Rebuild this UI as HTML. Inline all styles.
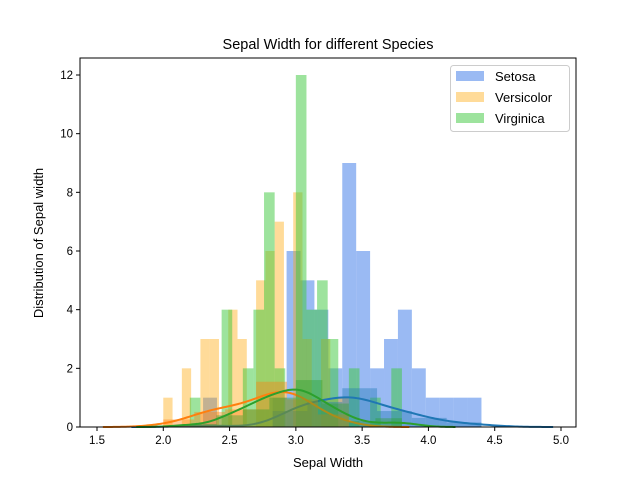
<!DOCTYPE html>
<html><head><meta charset="utf-8">
<style>
html,body{margin:0;padding:0;background:#fff;}
svg text{font-family:"Liberation Sans","DejaVu Sans",sans-serif;fill:#000;}
</style></head>
<body>
<svg id="chart" width="640" height="480" viewBox="0 0 640 480" xmlns="http://www.w3.org/2000/svg">
<rect x="0" y="0" width="640" height="480" fill="#fff"/>
<g id="plot"></g>
<text x="328" y="49" font-size="14.5" text-anchor="middle">Sepal Width for different Species</text>
<text x="328" y="467" font-size="13" text-anchor="middle">Sepal Width</text>
<text transform="translate(43,243) rotate(-90)" font-size="13" text-anchor="middle">Distribution of Sepal width</text>
<g>
<rect x="450.5" y="65.5" width="119" height="66" rx="3" fill="#fff" fill-opacity="0.8" stroke="#ccc"/>
<rect x="456" y="71" width="28" height="10" fill="rgba(100,149,237,0.65)"/>
<text x="495" y="81" font-size="13">Setosa</text>
<rect x="456" y="92" width="28" height="10" fill="rgba(255,165,0,0.4)"/>
<text x="495" y="102" font-size="13">Versicolor</text>
<rect x="456" y="113" width="28" height="10" fill="rgba(60,200,60,0.5)"/>
<text x="495" y="123" font-size="13">Virginica</text>
</g>
</svg>
<script>
// ---- data ----
const xTicks = [1.5,2.0,2.5,3.0,3.5,4.0,4.5,5.0];
const yTicks = [0,2,4,6,8,10,12];
const setosaRange = [2.3,4.4];
const versicolorRange = [2.0,3.4];
const virginicaRange = [2.2,3.8];
const setosaCounts = [1,0,0,0,0,1,6,5,4,2,9,6,2,3,4,2,1,1,1,1];
const versicolorCounts = [1,0,2,0,3,3,0,4,3,0,5,6,7,0,8,3,0,3,1,1];
const virginicaCounts = [1,0,0,4,0,2,4,8,2,0,12,4,5,3,0,2,0,1,0,2];
// raw sepal-width values and frequencies (for density hist + KDE)
const setosaValues = [2.3,2.9,3.0,3.1,3.2,3.3,3.4,3.5,3.6,3.7,3.8,3.9,4.0,4.1,4.2,4.4];
const setosaFreq   = [1,1,6,4,5,2,9,6,2,3,4,2,1,1,1,1];
const versicolorValues = [2.0,2.2,2.3,2.4,2.5,2.6,2.7,2.8,2.9,3.0,3.1,3.2,3.3,3.4];
const versicolorFreq   = [1,2,3,3,4,3,5,6,7,8,3,3,1,1];
const virginicaValues = [2.2,2.5,2.6,2.7,2.8,2.9,3.0,3.1,3.2,3.3,3.4,3.6,3.8];
const virginicaFreq   = [1,4,2,4,8,2,12,4,5,3,2,1,2];

// ---- axes ----
const L=80,R=576,T=58,B=427;
const xs = v => 97 + (v-1.5)*(561-97)/3.5;
const ys = v => 427 - v*(427-75)/12;
const NS="http://www.w3.org/2000/svg";
const plot=document.getElementById('plot');
function mk(tag,attrs,parent){const e=document.createElementNS(NS,tag);for(const k in attrs)e.setAttribute(k,attrs[k]);(parent||plot).appendChild(e);return e;}

function countHist(range,counts,fill,name){
  const w=(range[1]-range[0])/counts.length;
  counts.forEach((c,i)=>{
    if(!c)return;
    const x0=xs(range[0]+i*w),x1=xs(range[0]+(i+1)*w);
    const r=mk('rect',{x:x0,y:ys(c),width:x1-x0,height:ys(0)-ys(c),fill:fill});
    
    
  });
}
function expand(vals,freq){const a=[];vals.forEach((v,i)=>{for(let k=0;k<freq[i];k++)a.push(v);});return a;}
function quant(s,q){const p=(s.length-1)*q,lo=Math.floor(p),hi=Math.ceil(p);return s[lo]+(s[hi]-s[lo])*(p-lo);}
function densityHist(a,fill,name){
  const s=a.slice().sort((x,y)=>x-y),n=s.length;
  const iqr=quant(s,0.75)-quant(s,0.25);
  const h=2*iqr/Math.cbrt(n);
  const nb=Math.min(50,Math.ceil((s[n-1]-s[0])/h));
  const w=(s[n-1]-s[0])/nb;const c=new Array(nb).fill(0);
  s.forEach(v=>{let i=Math.floor((v-s[0])/w+1e-9);if(i>=nb)i=nb-1;c[i]++;});
  c.forEach((k,i)=>{if(!k)return;const d=k/(n*w);
    const x0=xs(s[0]+i*w),x1=xs(s[0]+(i+1)*w);
    const r=mk('rect',{x:x0,y:ys(d),width:x1-x0,height:ys(0)-ys(d),fill:fill,'fill-opacity':0.4});
    
    
  });
}
function kde(a,color,name){
  const n=a.length,m=a.reduce((p,v)=>p+v,0)/n;
  const sd=Math.sqrt(a.reduce((p,v)=>p+(v-m)*(v-m),0)/(n-1));
  const s=a.slice().sort((x,y)=>x-y);const iqr=quant(s,0.75)-quant(s,0.25);
  const bw=1.059*Math.min(sd,iqr/1.349)*Math.pow(n,-0.2);
  const lo=s[0]-3*bw,hi=s[n-1]+3*bw;let d='';
  for(let i=0;i<=200;i++){const x=lo+(hi-lo)*i/200;let y=0;
    a.forEach(v=>{const z=(x-v)/bw;y+=Math.exp(-z*z/2);});
    y/=n*bw*Math.sqrt(2*Math.PI);
    d+=(i?'L':'M')+xs(x).toFixed(2)+','+ys(y).toFixed(2);}
  const p=mk('path',{d:d,fill:'none',stroke:color,'stroke-width':2});
  
  
}
countHist(setosaRange,setosaCounts,'rgba(100,149,237,0.65)','setosa');
countHist(versicolorRange,versicolorCounts,'rgba(255,165,0,0.4)','versicolor');
countHist(virginicaRange,virginicaCounts,'rgba(60,200,60,0.5)','virginica');
const sA=expand(setosaValues,setosaFreq),vA=expand(versicolorValues,versicolorFreq),gA=expand(virginicaValues,virginicaFreq);
densityHist(sA,'#1f77b4','setosa');kde(sA,'#1f77b4','setosa');
densityHist(vA,'#ff7f0e','versicolor');kde(vA,'#ff7f0e','versicolor');
densityHist(gA,'#2ca02c','virginica');kde(gA,'#2ca02c','virginica');

// frame + ticks
const fr=mk('rect',{x:L,y:T,width:R-L,height:B-T,fill:'none',stroke:'#000','stroke-width':1});


xTicks.forEach(v=>{
  mk('line',{x1:xs(v),x2:xs(v),y1:B,y2:B+4,stroke:'#000'});
  const t=mk('text',{x:xs(v),y:B+17,'font-size':11.5,'text-anchor':'middle'});t.textContent=v.toFixed(1);
  
  
});
yTicks.forEach(v=>{
  mk('line',{x1:L-4,x2:L,y1:ys(v),y2:ys(v),stroke:'#000'});
  const t=mk('text',{x:L-7,y:ys(v)+4,'font-size':11.5,'text-anchor':'end'});t.textContent=v;
  
  
});
</script>
</body></html>
